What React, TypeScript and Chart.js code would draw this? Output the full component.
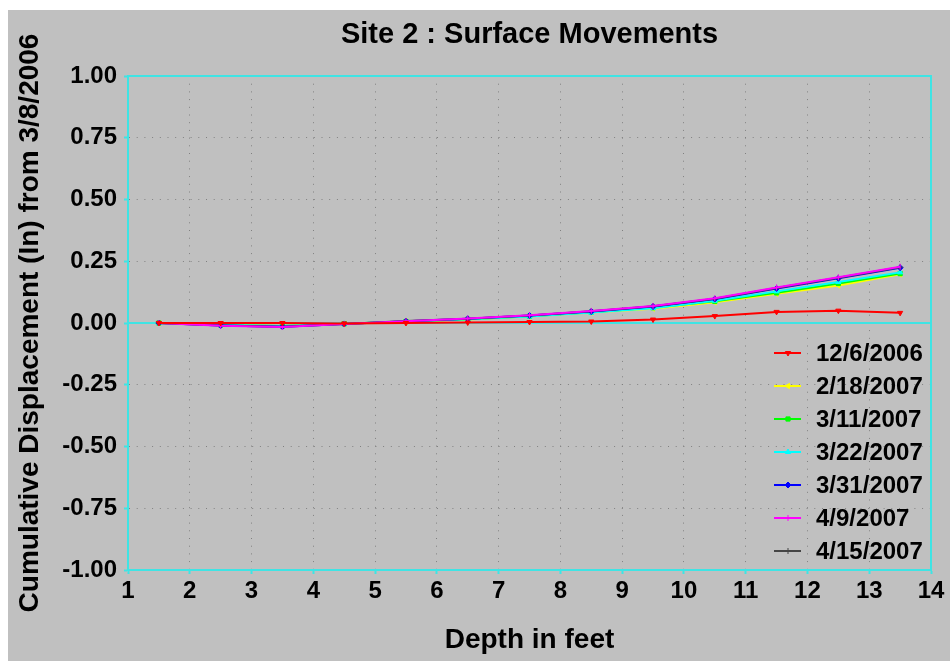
import React, { useEffect, useRef } from "react";
import { Chart, registerables } from "chart.js";

Chart.register(...registerables);

// ---- data ----
const depths = [1.5, 2.5, 3.5, 4.5, 5.5, 6.5, 7.5, 8.5, 9.5, 10.5, 11.5, 12.5, 13.5];

const seriesLabels = ["12/6/2006", "2/18/2007", "3/11/2007", "3/22/2007", "3/31/2007", "4/9/2007", "4/15/2007"];

const dec2006 = [0, 0, 0, -0.002, 0, 0.002, 0.004, 0.006, 0.014, 0.028, 0.045, 0.05, 0.041];
const feb18 = [0, -0.008, -0.012, -0.003, 0.006, 0.014, 0.026, 0.042, 0.058, 0.084, 0.118, 0.152, 0.197];
const mar11 = [0, -0.008, -0.012, -0.003, 0.006, 0.015, 0.027, 0.044, 0.062, 0.088, 0.122, 0.16, 0.2];
const mar22 = [0, -0.008, -0.012, -0.003, 0.006, 0.015, 0.026, 0.042, 0.06, 0.09, 0.128, 0.166, 0.205];
const mar31 = [0, -0.01, -0.015, -0.004, 0.007, 0.017, 0.03, 0.047, 0.067, 0.097, 0.14, 0.181, 0.224];
const apr9 = [0, -0.011, -0.016, -0.004, 0.007, 0.018, 0.031, 0.049, 0.069, 0.1, 0.144, 0.185, 0.228];
const apr15 = [0, -0.01, -0.015, -0.004, 0.008, 0.017, 0.03, 0.048, 0.068, 0.098, 0.142, 0.183, 0.226];

const seriesValues = [dec2006, feb18, mar11, mar22, mar31, apr9, apr15];
const seriesColors = ["#ff0000", "#ffff00", "#00ff00", "#00ffff", "#0000ff", "#ff00ff", "#454545"];
const pointStyles = ["triangle", "triangle", "rect", "triangle", "rectRot", "line", "cross"];
const pointRotations = [180, -90, 0, 0, 0, 90, 0];
const drawOrder = [0, 6, 5, 4, 3, 1, 2];

const titleText = "Site 2 : Surface Movements";
const xTitle = "Depth in feet";
const yTitle = "Cumulative Displacement (In) from 3/8/2006";
const xMin = 1, xMax = 14, xStep = 1;
const yMin = -1, yMax = 1, yStep = 0.25;

const FONT = '"Liberation Sans", Arial, Helvetica, sans-serif';
const CYAN = "#3fe4e4";
const BG = "#c0c0c0";
const GRID = "#808080";

function drawMarker(ctx: CanvasRenderingContext2D, style: string, rot: number, x: number, y: number, r: number, color: string) {
  ctx.save();
  ctx.translate(x, y);
  ctx.rotate((rot * Math.PI) / 180);
  ctx.strokeStyle = color;
  ctx.fillStyle = color;
  ctx.lineWidth = 1;
  ctx.beginPath();
  if (style === "triangle") {
    ctx.moveTo(0, -r);
    ctx.lineTo(r * 0.87, r * 0.5);
    ctx.lineTo(-r * 0.87, r * 0.5);
    ctx.closePath();
    ctx.fill();
    ctx.stroke();
  } else if (style === "rect") {
    ctx.rect(-r * 0.7, -r * 0.7, r * 1.4, r * 1.4);
    ctx.fill();
    ctx.stroke();
  } else if (style === "rectRot") {
    ctx.moveTo(0, -r);
    ctx.lineTo(r, 0);
    ctx.lineTo(0, r);
    ctx.lineTo(-r, 0);
    ctx.closePath();
    ctx.fill();
    ctx.stroke();
  } else if (style === "line") {
    ctx.moveTo(-r, 0);
    ctx.lineTo(r, 0);
    ctx.stroke();
  } else {
    ctx.moveTo(-r, 0);
    ctx.lineTo(r, 0);
    ctx.moveTo(0, -r);
    ctx.lineTo(0, r);
    ctx.stroke();
  }
  ctx.restore();
}

const framePlugin = {
  id: "frame",
  beforeDatasetsDraw(chart: any) {
    const { ctx, chartArea, scales } = chart;
    const { left, top, right, bottom } = chartArea;
    const y0 = scales.y.getPixelForValue(0);
    ctx.save();
    ctx.setLineDash([]);
    ctx.strokeStyle = CYAN;
    ctx.lineWidth = 2;
    ctx.beginPath();
    ctx.moveTo(left, y0);
    ctx.lineTo(right, y0);
    ctx.stroke();
    ctx.strokeRect(left, top, right - left, bottom - top);
    ctx.restore();
  },
  afterDraw(chart: any) {
    const { ctx, chartArea } = chart;
    const { left, right, bottom } = chartArea;
    ctx.save();
    ctx.setLineDash([]);
    // title
    ctx.fillStyle = "#000";
    ctx.font = `bold 29px ${FONT}`;
    ctx.textAlign = "center";
    ctx.textBaseline = "middle";
    ctx.fillText(titleText, (left + right) / 2, 25);
    // legend
    const ds = chart.data.datasets;
    const n = ds.length;
    ctx.font = `bold 24px ${FONT}`;
    ctx.textAlign = "left";
    for (let i = 0; i < n; i++) {
      const yy = bottom - 19 - (n - 1 - i) * 33;
      const color = ds[i].borderColor;
      ctx.strokeStyle = color;
      ctx.lineWidth = 2;
      ctx.beginPath();
      ctx.moveTo(right - 157, yy);
      ctx.lineTo(right - 130, yy);
      ctx.stroke();
      drawMarker(ctx, pointStyles[i], pointRotations[i], right - 143, yy, 3, color);
      ctx.fillStyle = "#000";
      ctx.fillText(ds[i].label, right - 115, yy + 1);
    }
    ctx.restore();
  },
};

export default function App() {
  const ref = useRef<HTMLCanvasElement | null>(null);

  useEffect(() => {
    if (!ref.current) return;
    const datasets = seriesValues.map((vals, i) => ({
      label: seriesLabels[i],
      data: vals.map((v, j) => ({ x: depths[j], y: v })),
      borderColor: seriesColors[i],
      backgroundColor: seriesColors[i],
      borderWidth: 2,
      pointStyle: pointStyles[i] as any,
      pointRotation: pointRotations[i],
      pointRadius: 3,
      pointBorderWidth: 1,
      tension: 0,
      fill: false,
      order: drawOrder[i],
    }));

    const gridCommon = {
      lineWidth: 1,
      tickColor: CYAN,
      tickLength: 4,
      tickBorderDash: [],
      tickWidth: 2,
    };

    const chart = new Chart(ref.current, {
      type: "line",
      data: { datasets },
      options: {
        animation: false,
        responsive: false,
        layout: { padding: { top: 66, right: 19, left: 0, bottom: 0 } },
        plugins: {
          legend: { display: false },
          title: { display: false },
          tooltip: { enabled: false },
        },
        scales: {
          x: {
            type: "linear",
            min: xMin,
            max: xMax,
            afterFit: (s: any) => {
              s.height = 91;
            },
            ticks: {
              stepSize: xStep,
              color: "#000",
              font: { family: FONT, size: 24, weight: "bold" },
              padding: 3,
              maxRotation: 0,
              autoSkip: false,
              callback: (v: any) => String(v),
            },
            grid: {
              ...gridCommon,
              color: (c: any) => (c.tick && (c.tick.value === xMin || c.tick.value === xMax) ? "rgba(0,0,0,0)" : GRID),
            } as any,
            border: { display: true, color: CYAN, width: 2, dash: [1, 6.7] } as any,
            title: {
              display: true,
              text: xTitle,
              color: "#000",
              font: { family: FONT, size: 28, weight: "bold" },
              padding: { top: 0, bottom: 4 },
            },
          },
          y: {
            type: "linear",
            min: yMin,
            max: yMax,
            afterFit: (s: any) => {
              s.width = 120;
            },
            ticks: {
              stepSize: yStep,
              color: "#000",
              font: { family: FONT, size: 24, weight: "bold" },
              padding: 7,
              callback: (v: any) => Number(v).toFixed(2),
            },
            grid: {
              ...gridCommon,
              color: (c: any) =>
                c.tick && (c.tick.value === 0 || c.tick.value === yMin || c.tick.value === yMax) ? "rgba(0,0,0,0)" : GRID,
            } as any,
            border: { display: true, color: CYAN, width: 2, dash: [1, 6.7] } as any,
            title: {
              display: true,
              text: yTitle,
              color: "#000",
              font: { family: FONT, size: 28, weight: "bold", lineHeight: 1.2 },
              padding: { top: 5, bottom: 0 },
            },
          },
        },
      },
      plugins: [framePlugin],
    });
    return () => chart.destroy();
  }, []);

  return (
    <div style={{ position: "fixed", left: 8, top: 10 }}>
      <canvas
        ref={ref}
        width={942}
        height={651}
        style={{ display: "block", width: 942, height: 651, background: BG }}
      />
    </div>
  );
}
